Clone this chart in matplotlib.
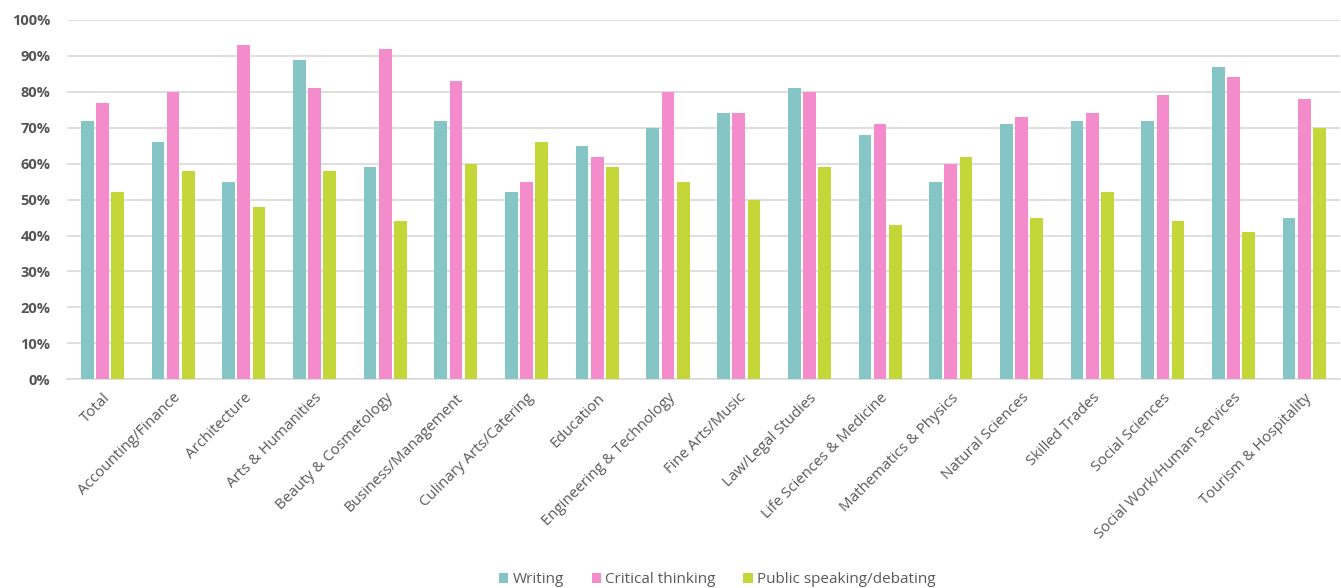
import numpy as np
from matplotlib import pyplot as plt
from matplotlib.ticker import PercentFormatter

plt.rcParams['font.family'] = ['Open Sans', 'DejaVu Sans']

CATEGORIES = ["Total", "Accounting/Finance", "Architecture", "Arts & Humanities",
              "Beauty & Cosmetology", "Business/Management", "Culinary Arts/Catering",
              "Education", "Engineering & Technology", "Fine Arts/Music",
              "Law/Legal Studies", "Life Sciences & Medicine", "Mathematics & Physics",
              "Natural Sciences", "Skilled Trades", "Social Sciences",
              "Social Work/Human Services", "Tourism & Hospitality"]
WRITING = [72, 66, 55, 89, 59, 72, 52, 65, 70, 74, 81, 68, 55, 71, 72, 72, 87, 45]
CRITICAL = [77, 80, 93, 81, 92, 83, 55, 62, 80, 74, 80, 71, 60, 73, 74, 79, 84, 78]
PUBLIC = [52, 58, 48, 58, 44, 60, 66, 59, 55, 50, 59, 43, 62, 45, 52, 44, 41, 70]
SERIES = ["Writing", "Critical thinking", "Public speaking/debating"]
COLORS = ["#86C5C6", "#F48BCB", "#C5D639"]

fig = plt.figure(figsize=(13.41, 5.88), dpi=100)
ax = fig.add_axes([0.05, 0.355, 0.949, 0.611])

x = np.arange(len(CATEGORIES))
w = 0.18
step = 0.215
for k, (vals, name, col) in enumerate(zip([WRITING, CRITICAL, PUBLIC], SERIES, COLORS)):
    ax.bar(x + (k - 1) * step, vals, width=w, color=col, label=name, zorder=3)

ax.set_xlim(-0.5, len(CATEGORIES) - 0.5)
ax.set_ylim(0, 100)
ax.set_yticks(np.arange(0, 101, 10))
ax.yaxis.set_major_formatter(PercentFormatter(decimals=0))
ax.grid(axis='y', color='#d9d9d9', linewidth=1.2, zorder=0)
for s in ['top', 'right', 'left']:
    ax.spines[s].set_visible(False)
ax.spines['bottom'].set_color('#d9d9d9')
ax.spines['bottom'].set_linewidth(1.2)
ax.tick_params(axis='both', length=0)
ax.tick_params(axis='y', pad=12)
for lab in ax.get_yticklabels():
    lab.set_fontweight('bold')
    lab.set_color('#555555')
    lab.set_fontsize(10.5)

ax.set_xticks(x)
ax.set_xticklabels(CATEGORIES, rotation=45, ha='right', rotation_mode='anchor',
                   fontsize=10.8, color='#595959')
ax.tick_params(axis='x', pad=8)

fig.legend(loc='lower center', bbox_to_anchor=(0.535, -0.022), ncol=3, frameon=False,
           fontsize=11, handlelength=0.6, handleheight=0.6, handletextpad=0.3,
           columnspacing=1.8, labelcolor='#595959')

fig.savefig('out.png', dpi=100)
